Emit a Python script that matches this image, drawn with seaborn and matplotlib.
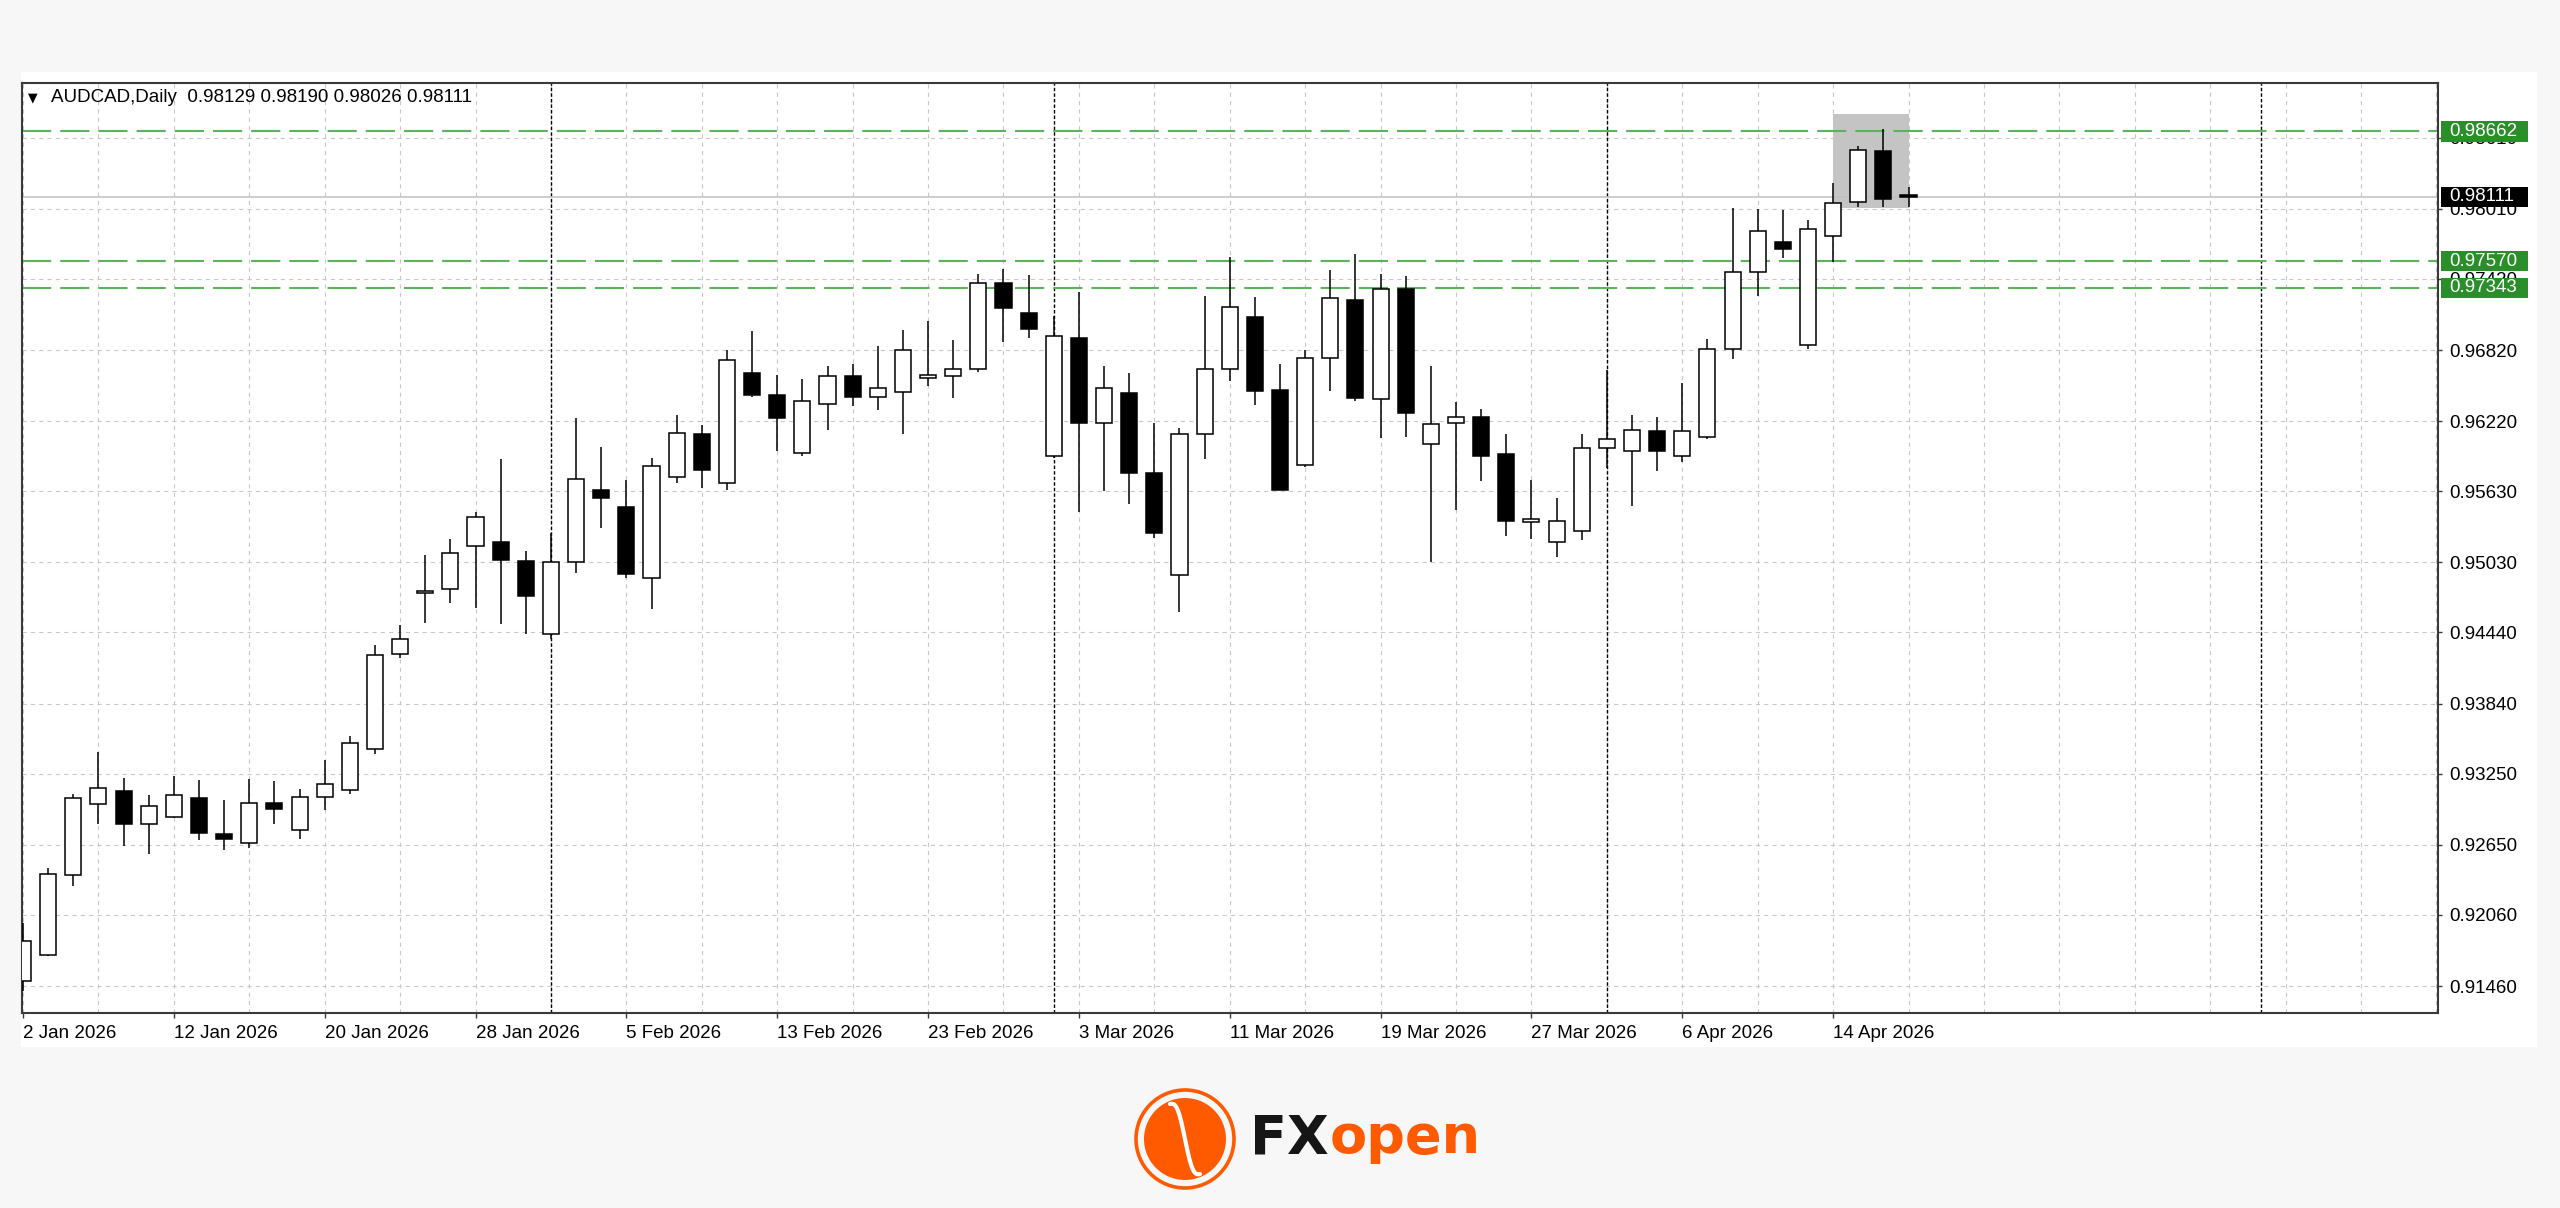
import numpy as np
import pandas as pd
import seaborn as sns
import matplotlib
matplotlib.use("Agg")
import matplotlib.pyplot as plt
import matplotlib.transforms as mtransforms
from matplotlib.patches import Rectangle, Circle

# --- data (AUDCAD daily) ---
dates = pd.bdate_range("2026-01-02", "2026-04-17")

opens = [0.91502, 0.91720, 0.92395, 0.92995, 0.93100, 0.92827, 0.92886, 0.93045, 0.92739, 0.92668,
         0.93003, 0.92773, 0.93054, 0.93113, 0.93461, 0.94262, 0.94769, 0.94807, 0.95172, 0.95200,
         0.95042, 0.94431, 0.95030, 0.95637, 0.95494, 0.94902, 0.95746, 0.96111, 0.95697, 0.96624,
         0.96439, 0.95953, 0.96368, 0.96597, 0.96428, 0.96462, 0.96582, 0.96597, 0.96661, 0.97388,
         0.97132, 0.95927, 0.96918, 0.96209, 0.96454, 0.95787, 0.94921, 0.96115, 0.96661, 0.97098,
         0.96481, 0.95851, 0.96756, 0.97245, 0.96405, 0.97332, 0.96029, 0.96202, 0.96255, 0.95942,
         0.95369, 0.95200, 0.95294, 0.95991, 0.95965, 0.96134, 0.95927, 0.96085, 0.96831, 0.97475,
         0.97727, 0.96865, 0.97780, 0.98063, 0.98496, 0.98129]
highs = [0.91988, 0.92458, 0.93079, 0.93435, 0.93213, 0.93066, 0.93226, 0.93200, 0.93024, 0.93205,
         0.93192, 0.93117, 0.93368, 0.93570, 0.94333, 0.94505, 0.95092, 0.95226, 0.95457, 0.95900,
         0.95128, 0.95275, 0.96247, 0.96006, 0.95727, 0.95908, 0.96273, 0.96191, 0.96816, 0.96982,
         0.96612, 0.96575, 0.96684, 0.96699, 0.96850, 0.96989, 0.97064, 0.96906, 0.97460, 0.97501,
         0.97452, 0.97106, 0.97309, 0.96684, 0.96624, 0.96202, 0.96164, 0.97275, 0.97603, 0.97264,
         0.96699, 0.96820, 0.97490, 0.97626, 0.97464, 0.97441, 0.96684, 0.96379, 0.96322, 0.96111,
         0.95723, 0.95577, 0.96111, 0.96654, 0.96270, 0.96255, 0.96541, 0.96914, 0.98014, 0.98006,
         0.97999, 0.97912, 0.98228, 0.98541, 0.98681, 0.98190]
lows = [0.91418, 0.91715, 0.92307, 0.92823, 0.92639, 0.92571, 0.92880, 0.92689, 0.92605, 0.92626,
        0.92823, 0.92702, 0.92941, 0.93075, 0.93419, 0.94228, 0.94522, 0.94689, 0.94648, 0.94514,
        0.94431, 0.94382, 0.94940, 0.95324, 0.94899, 0.94639, 0.95697, 0.95656, 0.95644, 0.96424,
        0.95972, 0.95923, 0.96145, 0.96349, 0.96315, 0.96111, 0.96518, 0.96413, 0.96631, 0.96887,
        0.96925, 0.95908, 0.95452, 0.95629, 0.95524, 0.95237, 0.94608, 0.95900, 0.96556, 0.96360,
        0.95640, 0.95833, 0.96473, 0.96390, 0.96078, 0.96085, 0.95030, 0.95475, 0.95720, 0.95256,
        0.95230, 0.95076, 0.95219, 0.95829, 0.95509, 0.95803, 0.95878, 0.96074, 0.96744, 0.97279,
        0.97592, 0.96827, 0.97562, 0.98025, 0.98025, 0.98026]
closes = [0.91838, 0.92408, 0.93045, 0.93129, 0.92827, 0.92978, 0.93066, 0.92752, 0.92702, 0.93003,
          0.92949, 0.93054, 0.93163, 0.93507, 0.94249, 0.94387, 0.94790, 0.95109, 0.95415, 0.95053,
          0.94748, 0.95030, 0.95735, 0.95577, 0.94929, 0.95844, 0.96123, 0.95806, 0.96737, 0.96439,
          0.96243, 0.96390, 0.96597, 0.96428, 0.96499, 0.96816, 0.96612, 0.96661, 0.97388, 0.97174,
          0.97000, 0.96940, 0.96206, 0.96499, 0.95780, 0.95279, 0.96115, 0.96661, 0.97185, 0.96473,
          0.95644, 0.96756, 0.97257, 0.96413, 0.97332, 0.96292, 0.96194, 0.96255, 0.95927, 0.95381,
          0.95396, 0.95381, 0.95991, 0.96074, 0.96145, 0.95965, 0.96134, 0.96831, 0.97475, 0.97825,
          0.97671, 0.97837, 0.98055, 0.98507, 0.98093, 0.98111]

price_ticks = [0.98610, 0.98010, 0.97420, 0.96820, 0.96220, 0.95630, 0.95030,
               0.94440, 0.93840, 0.93250, 0.92650, 0.92060, 0.91460]
price_tick_labels = ["0.98610", "0.98010", "0.97420", "0.96820", "0.96220", "0.95630", "0.95030",
                     "0.94440", "0.93840", "0.93250", "0.92650", "0.92060", "0.91460"]
green_levels = [0.98662, 0.97570, 0.97343]
last_price = 0.98111
separator_bars = [21, 41, 63, 89]
zone_bars = [72, 75]
zone_prices = [0.98020, 0.98805]

df = pd.DataFrame({"date": dates, "open": opens, "high": highs, "low": lows, "close": closes})
df["x"] = np.arange(len(df))
df["up"] = df["close"] >= df["open"]

# --- style ---
sns.set_theme(style="white")
plt.rcParams["font.family"] = ["Liberation Sans", "DejaVu Sans"]
plt.rcParams["lines.scale_dashes"] = False

W, H = 2560, 1208
fig = plt.figure(figsize=(W / 100, H / 100), dpi=100, facecolor="#f7f7f7")
fig.patches.append(Rectangle((21 / W, 1 - 1047 / H), (2537 - 21) / W, (1047 - 72) / H,
                             transform=fig.transFigure, fc="white", ec="none", zorder=-5))

ax = fig.add_axes([22 / W, 1 - 1013 / H, (2438 - 22) / W, (1013 - 83) / H])
ax.set_zorder(2)
ax.set_facecolor("white")
ax.set_xlim(-0.04, 96.06)
ax.set_ylim(0.91233, 0.99070)

# grid
for p in price_ticks:
    ax.axhline(p, color="#c8c8c8", lw=0.8, ls=(0, (3, 3)), zorder=1.5)
for gx in range(0, 97, 3):
    ax.axvline(gx, color="#c8c8c8", lw=0.8, ls=(0, (3, 3)), zorder=1.5)

# highlighted zone
ax.add_patch(Rectangle((zone_bars[0], zone_prices[0]), zone_bars[1] - zone_bars[0],
                       zone_prices[1] - zone_prices[0], fc="#c4c4c4", ec="none", zorder=1))

# month separators
for sx in separator_bars:
    ax.axvline(sx, color="black", lw=1.0, ls=(0, (2.5, 1.5)), zorder=1.6)

# levels
for lv in green_levels:
    ax.axhline(lv, color="#5cb35c", lw=1.5, ls=(0, (21, 6.5)), zorder=2)
ax.axhline(last_price, color="#c0c0c0", lw=1.1, zorder=2)

# candles
ax.vlines(df["x"], df["low"], df["high"], color="black", lw=1.1, zorder=3)
body_lo = df[["open", "close"]].min(axis=1)
body_h = (df["close"] - df["open"]).abs().clip(lower=0.00004)
ax.bar(df["x"], body_h, bottom=body_lo, width=0.64,
       color=np.where(df["up"], "white", "black"), edgecolor="black", linewidth=1.1, zorder=4)

# axes frame
for s in ax.spines.values():
    s.set_color("#3a3a3a")
    s.set_linewidth(1.5)

# ticks
ax.yaxis.tick_right()
ax.set_yticks(price_ticks)
ax.set_yticklabels(price_tick_labels)
xt = list(range(0, len(df), 6))
ax.set_xticks(xt)
ax.set_xticklabels([f"{d.day} {d.strftime('%b %Y')}" for d in df["date"].iloc[xt]], ha="left")
ax.tick_params(axis="x", length=3.6, width=1, color="#3a3a3a", pad=5, labelsize=13.5,
               labelcolor="black", bottom=True)
ax.tick_params(axis="y", length=3, width=1, color="#3a3a3a", pad=5, labelsize=13.5,
               labelcolor="black", right=True, left=False)
ax.set_xlabel("")
ax.set_ylabel("")

# price label boxes on right axis
trans = mtransforms.blended_transform_factory(ax.transAxes, ax.transData)
hh = 0.00085
for lv, fc in [(green_levels[0], "#2a8f2a"), (green_levels[1], "#2a8f2a"),
               (green_levels[2], "#2a8f2a"), (last_price, "black")]:
    ax.add_patch(Rectangle((1.0012, lv - hh), 0.036, 2 * hh, transform=trans,
                           fc=fc, ec="none", clip_on=False, zorder=10))
    ax.text(1.00455, lv, f"{lv:.5f}", transform=trans, va="center", ha="left",
            fontsize=13.5, color="white", zorder=11, clip_on=False)

# header
fig.text(28 / W, 1 - 98 / H, "\u25bc", fontsize=9, va="center", ha="left",
         family="DejaVu Sans", color="black", zorder=5)
fig.text(51 / W, 1 - 98 / H,
         f"AUDCAD,Daily  {opens[-1]:.5f} {highs[-1]:.5f} {lows[-1]:.5f} {closes[-1]:.5f}",
         fontsize=13.5, va="center", ha="left", color="black", zorder=5)

# logo
orange = "#ff5a00"
lax = fig.add_axes([1130 / W, 1 - 1194 / H, 110 / W, 110 / H])
lax.set_xlim(0, 110)
lax.set_ylim(0, 110)
lax.axis("off")
lax.add_patch(Circle((55, 55), 49, fill=False, ec=orange, lw=2.6))
lax.add_patch(Circle((55, 55), 41, fc=orange, ec="none"))
tt = np.linspace(0, 1, 60)
lax.plot(40 + 30 * tt, 90 - 70 * tt + 12 * np.sin(tt * 2 * np.pi), color="white", lw=3)
fig.text(1250 / W, 1 - 1153 / H, "FX", fontsize=39, weight="bold", color="#161616",
         va="baseline", ha="left", family="DejaVu Sans")
fig.text(1330 / W, 1 - 1153 / H, "open", fontsize=39, weight="bold", color=orange,
         va="baseline", ha="left", family="DejaVu Sans")

fig.savefig("out.png", dpi=100, facecolor=fig.get_facecolor())
